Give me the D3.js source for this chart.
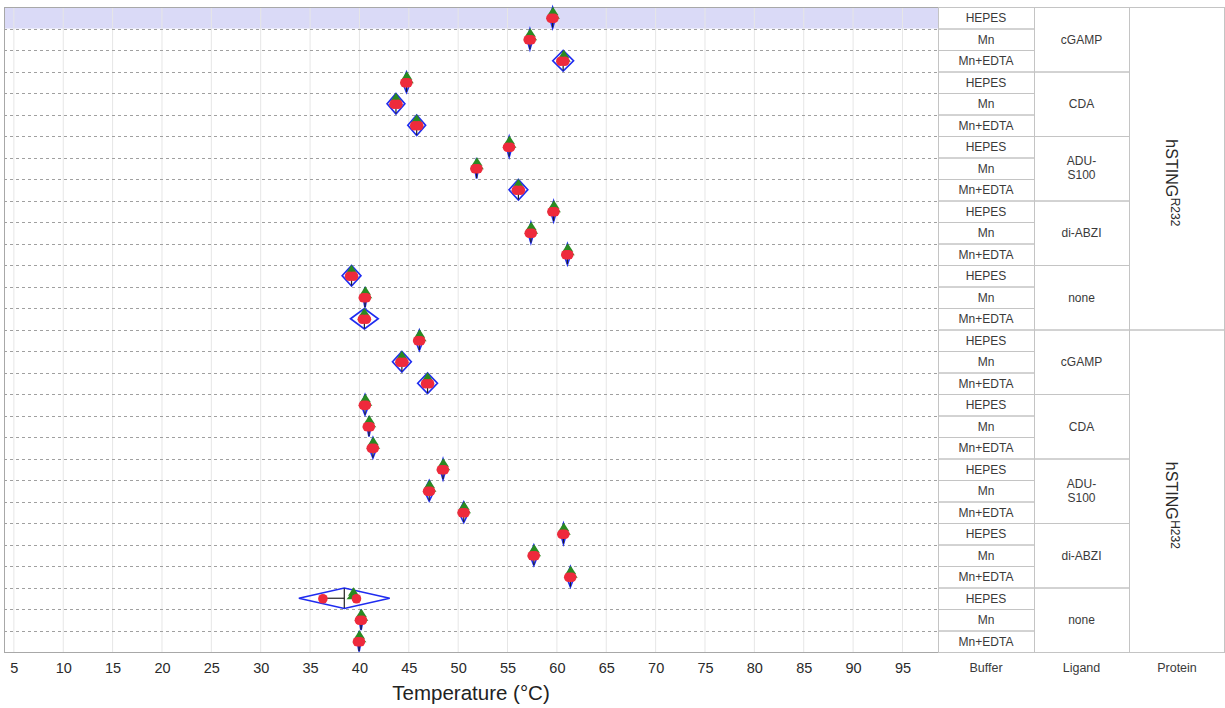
<!DOCTYPE html>
<html>
<head>
<meta charset="utf-8">
<script src="https://cdn.jsdelivr.net/npm/d3@7"></script>
<style>
  html, body { margin: 0; padding: 0; background: #fff; }
  svg { display: block; font-family: "Liberation Sans", Arial, sans-serif; }
</style>
</head>
<body>
<svg id="chart" width="1225" height="708"></svg>
<script>
// ---------------- data ----------------
const proteins = ["R232", "H232"];
const ligands = ["cGAMP", "CDA", "ADU-S100", "di-ABZI", "none"];
const buffers = ["HEPES", "Mn", "Mn+EDTA"];
const tickLabels = [5, 10, 15, 20, 25, 30, 35, 40, 45, 50, 55, 60, 65, 70, 75, 80, 85, 90, 95];
const columnLabels = ["Buffer", "Ligand", "Protein"];

// replicate melting temperatures (°C), one row per protein/ligand/buffer combination, top to bottom
const replicates = [
  [59.4, 59.6, 59.7],  // R232 cGAMP HEPES
  [57.1, 57.3, 57.4],  // Mn
  [60.4, 60.7, 60.8],  // Mn+EDTA
  [44.6, 44.8, 44.9],  // R232 CDA HEPES
  [43.5, 43.7, 43.9],  // Mn
  [45.6, 45.8, 46.0],  // Mn+EDTA
  [55.0, 55.2, 55.3],  // R232 ADU-S100 HEPES
  [51.7, 51.9, 52.0],  // Mn
  [55.9, 56.1, 56.3],  // Mn+EDTA
  [59.5, 59.7, 59.8],  // R232 di-ABZI HEPES
  [57.2, 57.4, 57.5],  // Mn
  [60.9, 61.1, 61.2],  // Mn+EDTA
  [39.0, 39.2, 39.4],  // R232 none HEPES
  [40.4, 40.6, 40.7],  // Mn
  [40.3, 40.5, 40.7],  // Mn+EDTA
  [45.9, 46.1, 46.2],  // H232 cGAMP HEPES
  [44.1, 44.3, 44.5],  // Mn
  [46.7, 46.9, 47.1],  // Mn+EDTA
  [40.4, 40.6, 40.7],  // H232 CDA HEPES
  [40.8, 41.0, 41.1],  // Mn
  [41.2, 41.4, 41.5],  // Mn+EDTA
  [48.3, 48.5, 48.6],  // H232 ADU-S100 HEPES
  [46.9, 47.1, 47.2],  // Mn
  [50.4, 50.6, 50.7],  // Mn+EDTA
  [60.5, 60.7, 60.8],  // H232 di-ABZI HEPES
  [57.5, 57.7, 57.8],  // Mn
  [61.2, 61.4, 61.5],  // Mn+EDTA
  [36.3, 39.4, 39.7],  // H232 none HEPES
  [40.0, 40.2, 40.3],  // Mn
  [39.8, 40.0, 40.1]   // Mn+EDTA
];
// half-width of the 95% confidence interval (means diamond), °C
const ciHalfWidth = [
  0.3, 0.3, 1.05,
  0.4, 0.9, 0.9,
  0.3, 0.2, 0.95,
  0.3, 0.3, 0.35,
  0.95, 0.2, 1.4,
  0.4, 0.95, 1.0,
  0.4, 0.2, 0.4,
  0.3, 0.5, 0.5,
  0.3, 0.4, 0.4,
  4.6, 0.2, 0.2
];
const highlightedRow = 0;

// ---------------- layout ----------------
const svg = d3.select("#chart");
const plotLeft = 4, plotRight = 938, plotTop = 7, plotBottom = 652;
const colEdges = [938, 1034, 1129, 1225];

const rows = [];
proteins.forEach(p => ligands.forEach(l => buffers.forEach(b => rows.push({ protein: p, ligand: l, buffer: b }))));
rows.forEach((r, i) => {
  r.values = replicates[i];
  r.mean = d3.mean(r.values);
  r.sd = d3.deviation(r.values);
  r.ci = ciHalfWidth[i];
  r.index = i;
});

const x = d3.scaleLinear().domain([4, 98.6]).range([plotLeft, plotRight]);
const y = d3.scaleBand().domain(d3.range(rows.length)).range([plotTop, plotBottom]).padding(0);
const bw = y.bandwidth();

// highlight
svg.append("rect")
  .attr("x", plotLeft).attr("y", y(highlightedRow))
  .attr("width", plotRight - plotLeft).attr("height", bw)
  .attr("fill", "#dadaf7");

// vertical grid
svg.append("g").selectAll("line").data(tickLabels).join("line")
  .attr("x1", d => x(d)).attr("x2", d => x(d))
  .attr("y1", plotTop).attr("y2", plotBottom)
  .attr("stroke", "#e6e6e6").attr("stroke-width", 1);

// horizontal dashed row lines
svg.append("g").selectAll("line").data(d3.range(1, rows.length)).join("line")
  .attr("x1", plotLeft).attr("x2", plotRight)
  .attr("y1", d => Math.round(y(d)) + 0.5).attr("y2", d => Math.round(y(d)) + 0.5)
  .attr("stroke", "#a0a0a0").attr("stroke-width", 1).attr("stroke-dasharray", "3,3");

// plot frame
svg.append("rect")
  .attr("x", plotLeft + 0.5).attr("y", plotTop + 0.5)
  .attr("width", plotRight - plotLeft).attr("height", plotBottom - plotTop)
  .attr("fill", "none").attr("stroke", "#a8a8a8");

// markers
const marks = svg.append("g");
rows.forEach(r => {
  const cy = y(r.index) + bw / 2;
  const g = marks.append("g");
  const xm = x(r.mean), xl = x(r.mean - r.ci), xr = x(r.mean + r.ci);
  // means diamond
  g.append("path")
    .attr("d", `M${xl},${cy} L${xm},${cy - bw / 2 + 0.5} L${xr},${cy} L${xm},${cy + bw / 2 - 0.5} Z`)
    .attr("fill", "none").attr("stroke", "#1f2cf0").attr("stroke-width", 1.7);
  // mean line
  g.append("line")
    .attr("x1", xm).attr("x2", xm).attr("y1", cy - bw / 2 + 1).attr("y2", cy + bw / 2 - 1)
    .attr("stroke", "#222").attr("stroke-width", 1.2);
  // std dev line
  g.append("line")
    .attr("x1", x(r.mean - r.sd)).attr("x2", xm).attr("y1", cy).attr("y2", cy)
    .attr("stroke", "#222").attr("stroke-width", 1.2);
  // green triangles (second replicate)
  const gx = x(r.values[1]);
  g.append("path")
    .attr("d", `M${gx},${cy - 11} L${gx + 5.5},${cy - 2.5} L${gx - 5.5},${cy - 2.5} Z`)
    .attr("fill", "#2a8a22");
  g.append("path")
    .attr("d", `M${gx},${cy - 7.5} L${gx + 7},${cy + 1} L${gx - 7},${cy + 1} Z`)
    .attr("fill", "#2a8a22");
  // red circles (first and third replicates)
  [r.values[0], r.values[2]].forEach(v => {
    g.append("circle").attr("cx", x(v)).attr("cy", cy + 0.5).attr("r", 4.8).attr("fill", "#ee2a3c");
  });
});

// x axis
const axis = svg.append("g")
  .attr("transform", `translate(0,${plotBottom})`)
  .call(d3.axisBottom(x).tickValues(tickLabels).tickSize(0).tickPadding(11).tickFormat(d3.format("d")));
axis.select(".domain").remove();
axis.selectAll("text").attr("font-size", 14.5).attr("fill", "#2a2a2a")
  .attr("font-family", "Liberation Sans, Arial, sans-serif");

svg.append("text")
  .attr("x", (plotLeft + plotRight) / 2).attr("y", 700)
  .attr("text-anchor", "middle").attr("font-size", 20.5).attr("fill", "#222")
  .text("Temperature (°C)");

// ---------------- table ----------------
const tbl = svg.append("g");
const border = "#c4c4c4";
// buffer column cells
rows.forEach(r => {
  const y0 = y(r.index);
  tbl.append("rect").attr("x", colEdges[0] + 0.5).attr("y", y0 + 0.5)
    .attr("width", colEdges[1] - colEdges[0]).attr("height", bw)
    .attr("fill", "none").attr("stroke", border);
  tbl.append("text").attr("x", (colEdges[0] + colEdges[1]) / 2).attr("y", y0 + bw / 2 + 4.3)
    .attr("text-anchor", "middle").attr("font-size", 12).attr("fill", "#3a3a3a")
    .text(r.buffer);
});
// ligand cells
const ligGroups = d3.groups(rows, r => r.protein + "|" + r.ligand);
ligGroups.forEach(([key, rs]) => {
  const y0 = y(rs[0].index), y1 = y(rs[rs.length - 1].index) + bw;
  tbl.append("rect").attr("x", colEdges[1] + 0.5).attr("y", y0 + 0.5)
    .attr("width", colEdges[2] - colEdges[1]).attr("height", y1 - y0)
    .attr("fill", "none").attr("stroke", border);
  const lig = rs[0].ligand;
  const cx = (colEdges[1] + colEdges[2]) / 2, cy = (y0 + y1) / 2;
  const t = tbl.append("text").attr("text-anchor", "middle").attr("font-size", 12).attr("fill", "#3a3a3a");
  if (lig === "ADU-S100") {
    t.append("tspan").attr("x", cx).attr("y", cy - 3).text("ADU-");
    t.append("tspan").attr("x", cx).attr("y", cy + 11).text("S100");
  } else {
    t.attr("x", cx).attr("y", cy + 4.3).text(lig);
  }
});
// protein cells
const protGroups = d3.groups(rows, r => r.protein);
protGroups.forEach(([p, rs]) => {
  const y0 = y(rs[0].index), y1 = y(rs[rs.length - 1].index) + bw;
  tbl.append("rect").attr("x", colEdges[2] + 0.5).attr("y", y0 + 0.5)
    .attr("width", colEdges[3] - colEdges[2] - 1).attr("height", y1 - y0)
    .attr("fill", "none").attr("stroke", border);
  const cx = 1166, cy = (y0 + y1) / 2;
  const lbl = tbl.append("g").attr("transform", `translate(${cx},${cy}) rotate(90)`);
  const main = lbl.append("text").attr("font-size", 16).attr("fill", "#2a2a2a").text("hSTING");
  const w = main.node().getComputedTextLength();
  main.attr("x", -w / 2).attr("y", 0);
  lbl.append("text").attr("font-size", 12).attr("fill", "#2a2a2a")
    .attr("x", w / 2 + 0.5).attr("y", -5).text(p);
});

// column labels
columnLabels.forEach((c, i) => {
  svg.append("text").attr("x", (colEdges[i] + colEdges[i + 1]) / 2).attr("y", 672)
    .attr("text-anchor", "middle").attr("font-size", 12.5).attr("fill", "#3a3a3a").text(c);
});
</script>
</body>
</html>
